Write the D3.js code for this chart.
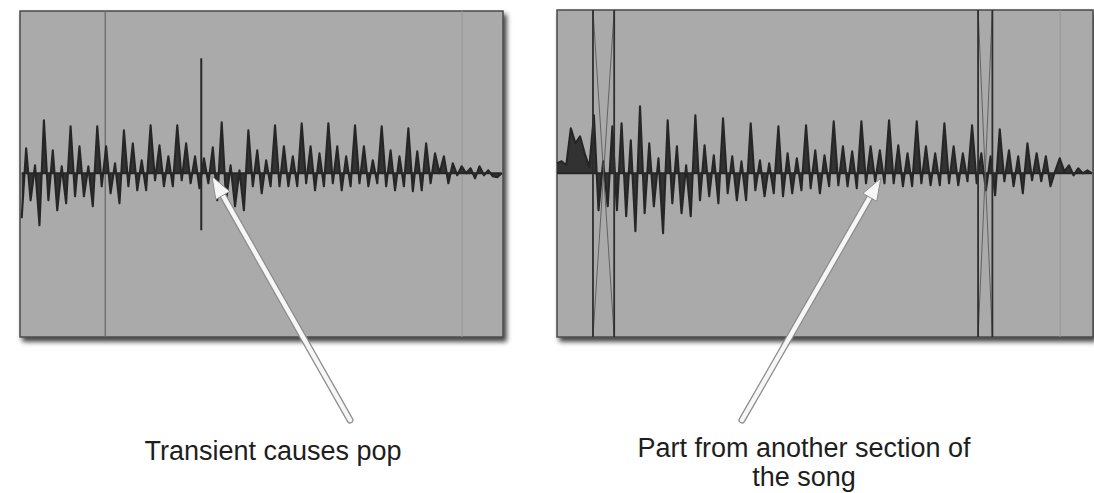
<!DOCTYPE html>
<html>
<head>
<meta charset="utf-8">
<script src="https://cdn.jsdelivr.net/npm/d3@7"></script>
<style>
  body { margin: 0; background: #fff; }
  svg { display: block; }
</style>
</head>
<body>
<div id="chart"></div>
<script>
// waveform samples (evenly spaced), amplitude, + is up
var leftWave = [-45, 25, -27, 8, -52,
  53, -27, 23, -37, 7, -30,
  47, -23, 27, -23, 7, -33,
  47, -13, 27, -20, 10, -30,
  43, -13, 30, -17, 13, -17,
  48, -7, 28, -13, 17, -13,
  48, -7, 30, -10, 17, -15,
  15, -10, 26, -27,
  51, -27, 8, -33, 3, -37,
  43, -13, 23, -20, 13, -13,
  48, -13, 27, -13, 17, -13,
  50, -10, 27, -17, 20, -13,
  50, -10, 27, -17, 17, -13,
  48, -10, 27, -13, 13, -10,
  47, -13, 23, -17, 17, -13,
  45, -18, 22, -17,
  30, -10, 20, 0, 17, -10, 10, -2, 7, 0, 5, -5, 7, -2, 3, -3, -4, 0];
var leftTransient = { at: 40.4, up: 115, down: -57 };
var leftMarkers = [18.8];
var leftFaint = [99.1];

var rightWave = [10, 12, 8, 45, 30, 37, 20, 6,
  58, -37, 12, -33, 47, -37, 50, -43, 33, -58,
  67, -40, 30, -33, 15, -60,
  53, -30, 27, -40, 8, -43,
  58, -27, 28, -23, 18, -30,
  55, -20, 17, -27, 12, -27,
  50, -17, 13, -23, 10, -20,
  47, -23, 20, -20, 15, -17,
  48, -15, 23, -20, 18, -13,
  52, -12, 27, -13, 22, -15,
  52, -10, 27, -8, 23, -10,
  53, -10, 28, -13, 20, -13,
  52, -10, 27, -12, 20, -12,
  50, -10, 27, -12, 20, -8,
  48, -10, 20, -17, 17, -22,
  44, -8, 23, -13, 17, -20,
  30, -7, 20, -8, 17, -13, 2, 15, 2, 8, -2, 5, 0, 3, 0];
var rightFades = [[7.8, 12.4], [91.3, 94.4]];
var rightFaint = [109.1];

var leftCaption = ["Transient causes pop"];
var rightCaption = ["Part from another section of", "the song"];

var width = 1094, height = 493;
var svg = d3.select("#chart").append("svg")
  .attr("width", width)
  .attr("height", height);

var defs = svg.append("defs");
var sh = defs.append("filter").attr("id", "shadow")
  .attr("x", "-5%").attr("y", "-5%").attr("width", "115%").attr("height", "120%");
sh.append("feDropShadow")
  .attr("dx", 3).attr("dy", 4).attr("stdDeviation", 2.5)
  .attr("flood-color", "#000").attr("flood-opacity", 0.75);
var soft = defs.append("filter").attr("id", "soft");
soft.append("feGaussianBlur").attr("stdDeviation", 0.45);

function drawPanel(p) {
  var g = svg.append("g");
  g.append("rect")
    .attr("x", p.x0).attr("y", p.y0)
    .attr("width", p.x1 - p.x0).attr("height", p.y1 - p.y0)
    .attr("fill", "#aaaaaa")
    .attr("stroke", "#4a4a4a")
    .attr("stroke-width", 1.5)
    .attr("filter", "url(#shadow)");

  var x = d3.scaleLinear().domain([0, p.wave.length - 1]).range(p.xr);
  var y = d3.scaleLinear().domain([-100, 100]).range([p.mid + 100, p.mid - 100]);

  (p.faint || []).forEach(function(m) {
    g.append("line")
      .attr("x1", x(m)).attr("x2", x(m))
      .attr("y1", p.y0).attr("y2", p.y1)
      .attr("stroke", "#989898").attr("stroke-width", 1);
  });
  (p.markers || []).forEach(function(m) {
    g.append("line")
      .attr("x1", x(m)).attr("x2", x(m))
      .attr("y1", p.y0).attr("y2", p.y1)
      .attr("stroke", "#6a6a6a").attr("stroke-width", 1.3);
  });

  var area = d3.area()
    .x(function(d, i) { return x(i); })
    .y0(y(0))
    .y1(function(d) { return y(d); });
  var line = d3.line()
    .x(function(d, i) { return x(i); })
    .y(function(d) { return y(d); });

  var w = g.append("g").attr("filter", "url(#soft)");
  w.append("path").datum(p.wave)
    .attr("d", area)
    .attr("fill", "#333");
  w.append("path").datum(p.wave)
    .attr("d", line)
    .attr("fill", "none")
    .attr("stroke", "#262626")
    .attr("stroke-width", 2.1)
    .attr("stroke-linejoin", "round");
  w.append("line")
    .attr("x1", x(0)).attr("x2", x(p.wave.length - 1))
    .attr("y1", y(0)).attr("y2", y(0))
    .attr("stroke", "#262626").attr("stroke-width", 2);

  if (p.transient) {
    w.append("line")
      .attr("x1", x(p.transient.at)).attr("x2", x(p.transient.at))
      .attr("y1", y(p.transient.up)).attr("y2", y(p.transient.down))
      .attr("stroke", "#262626").attr("stroke-width", 2);
  }

  (p.fades || []).forEach(function(f) {
    var a = x(f[0]), b = x(f[1]);
    g.append("line").attr("x1", a).attr("y1", p.y0).attr("x2", b).attr("y2", p.y1)
      .attr("stroke", "#5a5a5a").attr("stroke-width", 0.9);
    g.append("line").attr("x1", b).attr("y1", p.y0).attr("x2", a).attr("y2", p.y1)
      .attr("stroke", "#5a5a5a").attr("stroke-width", 0.9);
    [a, b].forEach(function(v) {
      g.append("line").attr("x1", v).attr("x2", v).attr("y1", p.y0).attr("y2", p.y1)
        .attr("stroke", "#2e2e2e").attr("stroke-width", 1.8);
    });
  });

  return { x: x, y: y };
}

var left = drawPanel({
  x0: 20, x1: 503, y0: 11, y1: 337, mid: 173.3, xr: [21.7, 501.7],
  wave: leftWave, transient: leftTransient, markers: leftMarkers, faint: leftFaint
});
var right = drawPanel({
  x0: 557, x1: 1093, y0: 10, y1: 337, mid: 173.3, xr: [557, 1092],
  wave: rightWave, fades: rightFades, faint: rightFaint
});

function arrow(tail, tip) {
  var dx = tip[0] - tail[0], dy = tip[1] - tail[1];
  var len = Math.sqrt(dx * dx + dy * dy);
  var ux = dx / len, uy = dy / len, px = -uy, py = ux;
  var hl = 22, hw = 8;
  var base = [tip[0] - ux * hl, tip[1] - uy * hl];
  var g = svg.append("g");
  g.append("line")
    .attr("x1", tail[0]).attr("y1", tail[1]).attr("x2", base[0] + ux * 2).attr("y2", base[1] + uy * 2)
    .attr("stroke", "#8c8c8c").attr("stroke-width", 7).attr("stroke-linecap", "round");
  g.append("line")
    .attr("x1", tail[0]).attr("y1", tail[1]).attr("x2", base[0] + ux * 2).attr("y2", base[1] + uy * 2)
    .attr("stroke", "#f6f6f6").attr("stroke-width", 4.5).attr("stroke-linecap", "round");
  g.append("path")
    .attr("d", "M" + tip[0] + "," + tip[1] +
      "L" + (base[0] + px * hw) + "," + (base[1] + py * hw) +
      "L" + (base[0] - px * hw) + "," + (base[1] - py * hw) + "Z")
    .attr("fill", "#f6f6f6").attr("stroke", "#8c8c8c").attr("stroke-width", 1);
}

arrow([350, 420], [left.x(42.8), left.y(-3)]);
arrow([742, 420], [right.x(70.2), right.y(-5)]);

function caption(lines, cx, base) {
  var t = svg.append("text")
    .attr("text-anchor", "middle")
    .attr("font-family", "'Liberation Sans', Arial, Helvetica, sans-serif")
    .attr("font-size", 27)
    .attr("fill", "#1e1e1e");
  lines.forEach(function(s, i) {
    t.append("tspan").attr("x", cx).attr("y", base + i * 29).text(s);
  });
}
caption(leftCaption, 273, 460);
caption(rightCaption, 804, 457);
</script>
</body>
</html>
